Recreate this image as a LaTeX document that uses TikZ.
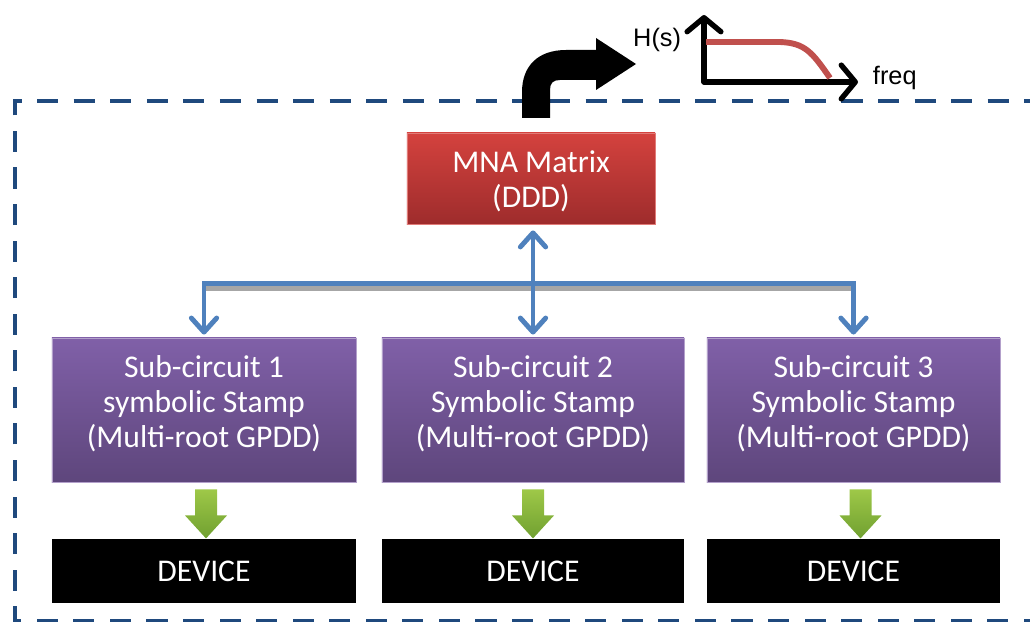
\documentclass[tikz,border=0pt]{standalone}
\usepackage{fontspec}
\setmainfont{Carlito}
\newfontfamily\plotfont{Liberation Sans}
\usetikzlibrary{arrows.meta}
\usetikzlibrary{calc}

\definecolor{frameblue}{RGB}{31,73,125}
\definecolor{linkblue}{RGB}{79,129,189}
\definecolor{mnatop}{RGB}{212,66,62}
\definecolor{mnabot}{RGB}{158,44,44}
\definecolor{subtop}{RGB}{128,96,168}
\definecolor{subbot}{RGB}{94,70,124}
\definecolor{greentop}{RGB}{158,200,72}
\definecolor{greenbot}{RGB}{112,160,48}
\definecolor{curvered}{RGB}{192,80,77}

\tikzset{
    box/.style={inner sep=0pt, align=center, text=white,
        font=\fontsize{22.5}{25}\selectfont},
    mnabox/.style={box, top color=mnatop, bottom color=mnabot,
        draw=mnatop!70!white, line width=0.6pt,
        minimum width=6.2cm, minimum height=2.275cm},
    subbox/.style={box, top color=subtop, bottom color=subbot,
        draw=subtop!60!white, line width=0.6pt, minimum height=3.6cm},
    devbox/.style={box, fill=black, minimum height=1.575cm},
    tip/.style={arrows={-Straight Barb[length=10pt,width=18pt,line width=3.5pt,round]}},
    link/.style={linkblue, line width=3.5pt, line cap=round, tip},
    linkshadow/.style={black!35, line width=3.5pt},
    axis/.style={line width=3.8pt, line cap=round,
        -{Straight Barb[length=10pt,width=24pt,line width=3.8pt,round]}}
}

\begin{document}
\begin{tikzpicture}[x=0.025cm,y=-0.025cm]
    \useasboundingbox (0,0) rectangle (1030,622);
    \clip (0,0) rectangle (1030,622);

    % dashed frame
    \draw[frameblue, line width=3.5pt, dash pattern=on 15pt off 11pt]
        (1045,621) -- (15,621) -- (15,101) -- (1045,101);

    % boxes
    \node[mnabox] (mna) at (531,178.5) {\\[-5pt]MNA Matrix\\(DDD)};
    \node[subbox, minimum width=7.6cm] (sub1) at (204,410)
        {Sub-circuit 1\\symbolic Stamp\\(Multi-root GPDD)\\[-13pt]};
    \node[subbox, minimum width=7.55cm] (sub2) at (533,410)
        {Sub-circuit 2\\Symbolic Stamp\\(Multi-root GPDD)\\[-13pt]};
    \node[subbox, minimum width=7.325cm] (sub3) at (853.5,410)
        {Sub-circuit 3\\Symbolic Stamp\\(Multi-root GPDD)\\[-13pt]};
    \node[devbox, minimum width=7.6cm] (dev1) at (204,571) {DEVICE};
    \node[devbox, minimum width=7.55cm] (dev2) at (533,571) {DEVICE};
    \node[devbox, minimum width=7.325cm] (dev3) at (853.5,571) {DEVICE};

    % green arrows
    \foreach \i/\dx in {1/2,2/0,3/7} {
        \coordinate (g) at ($(sub\i.south)+(\dx,7)$);
        \shade[top color=greentop, bottom color=greenbot]
            ($(g)+(-11,0)$) -- ($(g)+(11,0)$) -- ($(g)+(11,26)$)
            -- ($(g)+(21,26)$) -- ($(g)+(0,49)$) -- ($(g)+(-21,26)$)
            -- ($(g)+(-11,26)$) -- cycle;
    }

    % blue bus
    \coordinate (bus) at ($(sub2.north)+(0,-54)$);
    \draw[linkshadow] ($(sub1.north |- bus)+(2,5)$) -- ($(sub3.north |- bus)+(2,5)$);
    \draw[link] (bus) -| ($(sub1.north)+(0,-3)$);
    \draw[link] (bus) -| ($(sub3.north)+(0,-3)$);
    \draw[link, arrows={Straight Barb[length=10pt,width=18pt,line width=3.5pt,round]-Straight Barb[length=10pt,width=18pt,line width=3.5pt,round]}]
        ($(mna.south)+(2,6)$) -- ($(sub2.north)+(0,-3)$);

    % bent output arrow
    \fill[black] (522,118) -- (522,92) .. controls (522,66) and (538,50) .. (566,50)
        -- (596,50) -- (596,38) -- (636,64) -- (596,90) -- (596,80)
        -- (560,80) .. controls (553,80) and (550,83) .. (550,90) -- (550,118) -- cycle;

    % frequency response
    \coordinate (o) at (704,82);
    \draw[axis] (o) -- (704,15) coordinate (ytip);
    \draw[axis] (o) -- (858,82) coordinate (xtip);
    \draw[curvered, line width=4.2pt] (706,42) -- (780,42)
        .. controls (805,43) and (812,52) .. (830,78);
    \node[font=\plotfont\fontsize{18}{20}\selectfont, anchor=east] (hs) at (686,40) {H(s)};
    \node[font=\plotfont\fontsize{18}{20}\selectfont, anchor=west] (fq) at (868,78) {freq};
\end{tikzpicture}
\end{document}
